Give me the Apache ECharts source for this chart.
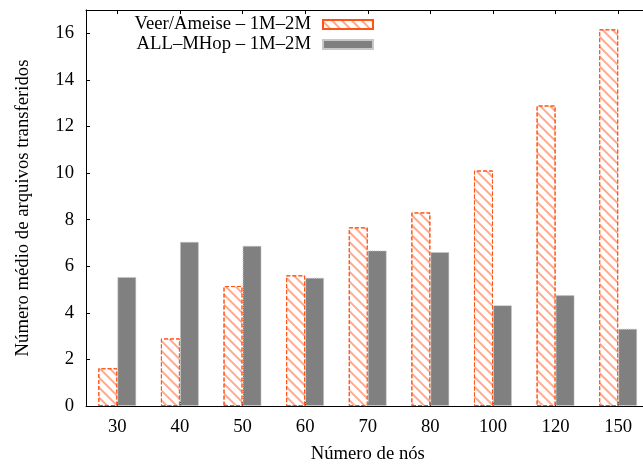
<!DOCTYPE html>
<html>
<head>
<meta charset="utf-8">
<script src="https://cdn.jsdelivr.net/npm/echarts@6/dist/echarts.min.js"></script>
<style>
html,body{margin:0;padding:0;background:#fff}
#Chart{width:643px;height:467px}
</style>
</head>
<body>
<div id="Chart"></div>
<script>
//数据
var categories=['30','40','50','60','70','80','100','120','150']
var veerData=[1.62,2.9,5.15,5.61,7.67,8.31,10.11,12.9,16.17]
var mhopData=[5.54,7.05,6.88,5.51,6.68,6.61,4.33,4.76,3.32]
var seriesNames=['Veer/Ameise – 1M–2M','ALL–MHop – 1M–2M']

var font='"Liberation Serif","DejaVu Serif",serif'
var fs=18.7

function drawChar(){
    var myChart=echarts.init(document.getElementById('Chart'))
    var option={
        animation:false,
        backgroundColor:'#fff',
        textStyle:{fontFamily:font},
        grid:{left:86,top:10,bottom:61,width:563.5,outerBoundsMode:'none',containLabel:false},
        legend:{
            orient:'vertical',
            align:'right',
            right:269,
            top:15,
            padding:0,
            itemGap:1,
            itemWidth:50,
            itemHeight:9,
            icon:'rect',
            textStyle:{fontFamily:font,fontSize:fs,color:'#000',padding:[0,7,0,0]},
            data:seriesNames
        },
        xAxis:[{
            type:'category',
            data:categories,
            name:'Número de nós',
            nameLocation:'middle',
            nameGap:39,
            nameTextStyle:{fontFamily:font,fontSize:fs,color:'#000'},
            axisLine:{lineStyle:{color:'#000',width:1}},
            axisTick:{show:true,inside:true,length:4,alignWithLabel:true,lineStyle:{color:'#000'}},
            axisLabel:{fontFamily:font,fontSize:fs,color:'#000',margin:12}
        },{
            type:'category',
            data:categories,
            position:'top',
            axisLine:{lineStyle:{color:'#000',width:1}},
            axisTick:{show:true,inside:true,length:4,alignWithLabel:true,lineStyle:{color:'#000'}},
            axisLabel:{show:false}
        }],
        yAxis:[{
            type:'value',
            min:0,
            max:17,
            interval:2,
            name:'Número médio de arquivos transferidos',
            nameLocation:'middle',
            nameGap:53,
            nameTextStyle:{fontFamily:font,fontSize:fs,color:'#000'},
            axisLine:{show:true,lineStyle:{color:'#000',width:1}},
            axisTick:{show:true,inside:true,length:4,lineStyle:{color:'#000'}},
            axisLabel:{fontFamily:font,fontSize:fs,color:'#000',margin:12,showMaxLabel:false},
            splitLine:{show:false}
        }],
        series:[{
            name:seriesNames[0],
            type:'bar',
            data:veerData,
            barWidth:19,
            barGap:'0%',
            itemStyle:{
                color:'#fff',
                borderColor:'#ff5414',
                borderWidth:1,
                borderType:'dashed',
                decal:{
                    symbol:'rect',
                    symbolSize:1,
                    dashArrayX:[1,0],
                    dashArrayY:[1.5,4.5],
                    rotation:Math.PI/4,
                    color:'rgba(255,100,50,0.55)'
                }
            }
        },{
            name:seriesNames[1],
            type:'bar',
            data:mhopData,
            barWidth:19,
            barGap:'0%',
            itemStyle:{
                color:'#808080',
                borderColor:'#c8c8c8',
                borderWidth:1,
                borderType:'dotted'
            }
        }]
    }
    myChart.setOption(option)
}
drawChar()
</script>
</body>
</html>
